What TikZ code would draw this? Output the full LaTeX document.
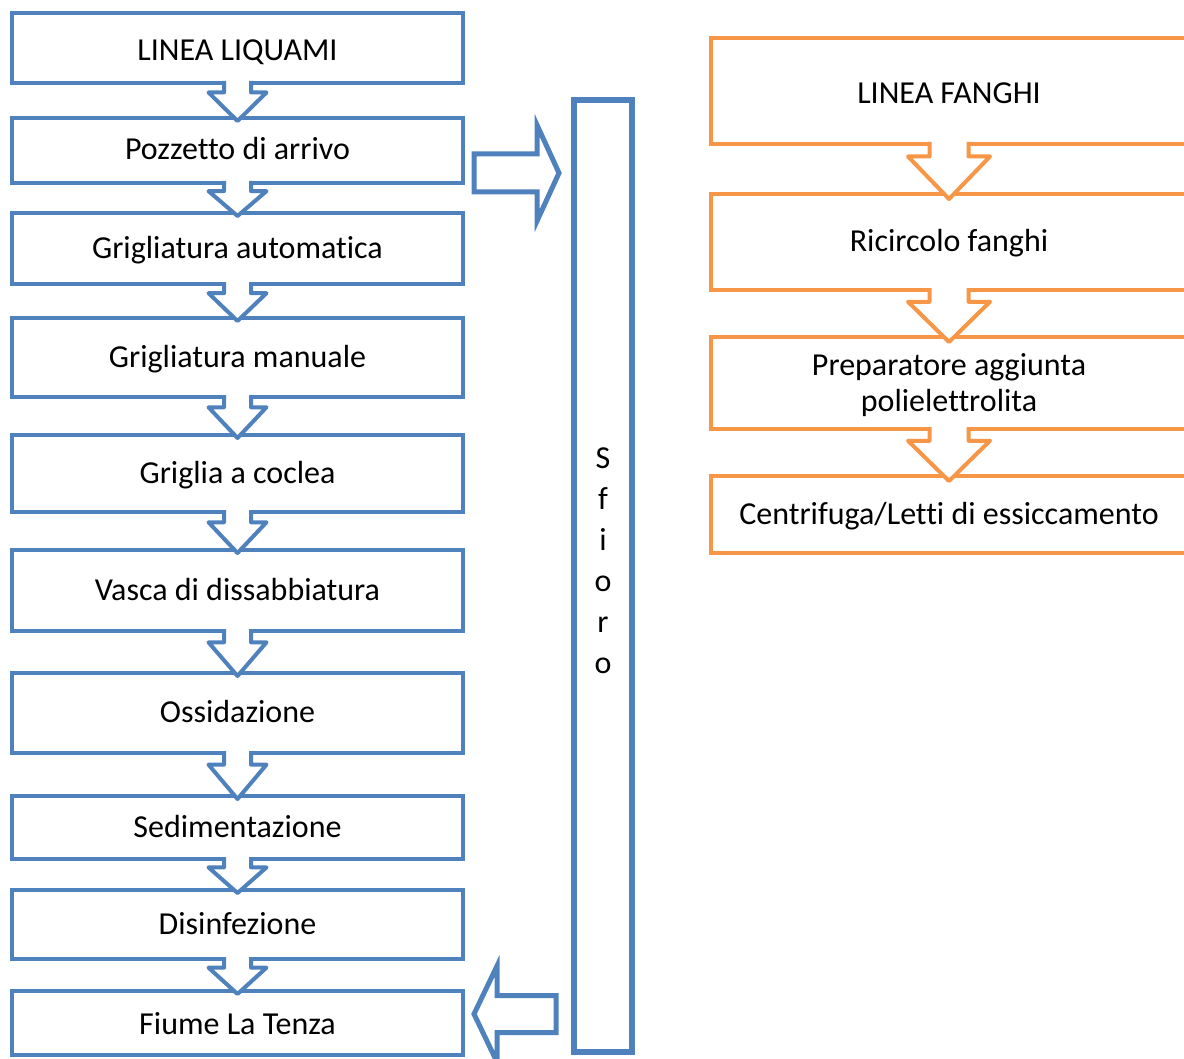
\documentclass[tikz,border=0pt]{standalone}
\usepackage{fontspec}
\setmainfont{Carlito}[Ligatures={NoCommon}]
\usetikzlibrary{calc}
\definecolor{flowblue}{HTML}{4F81BD}
\definecolor{floworange}{HTML}{F79646}

% Block arrow pointing down, from the bottom of one box to the top of the next.
% #1 from, #2 to, #3 colour, #4 shaft half width, #5 head half width,
% #6 fraction where the head starts, #7 overshoot of the tip
\newcommand\flowdown[7]{%
  \coordinate (ft) at (#1.south);
  \coordinate (fh) at ($(#1.south)!#6!(#2.north)$);
  \coordinate (fp) at ($(#2.north)+(0,#7)$);
  \fill[white] ($(ft)+(-#4,-2)$) -- ($(fh)+(-#4,0)$) -- ($(fh)+(-#5,0)$) -- (fp)
    -- ($(fh)+(#5,0)$) -- ($(fh)+(#4,0)$) -- ($(ft)+(#4,-2)$) -- cycle;
  \draw[draw=#3, line width=3pt, line join=round]
    ($(ft)+(-#4,-2)$) -- ($(fh)+(-#4,0)$) -- ($(fh)+(-#5,0)$) -- (fp)
    -- ($(fh)+(#5,0)$) -- ($(fh)+(#4,0)$) -- ($(ft)+(#4,-2)$);
}

\begin{document}
\begin{tikzpicture}[x=0.75pt,y=-0.75pt,
  boxtext/.style={font=\fontsize{24}{27}\selectfont, text height=14.25pt, text depth=0pt,
    inner sep=0pt, outer sep=0pt, align=center, rectangle},
  lbox/.style={boxtext, draw=flowblue, line width=3pt, minimum width=451*0.75pt},
  obox/.style={boxtext, draw=floworange, line width=3pt, minimum width=476*0.75pt},
  sidebox/.style={boxtext, draw=flowblue, line width=4pt, minimum width=58*0.75pt,
    font=\fontsize{24}{30.75}\selectfont, text height=145.5pt},
  harrow/.style={draw=flowblue, fill=white, line width=3.75pt}]
\useasboundingbox (0,0) rectangle (1184,1059);
\clip (0,0) rectangle (1184,1059);

% sewage line
\node[lbox, minimum height=70*0.75pt, text height=18.75pt] (b1) at (237.5,48) {LINEA LIQUAMI};
\node[lbox, minimum height=65*0.75pt] (b2) at (237.5,150.5) {Pozzetto di arrivo};
\node[lbox, minimum height=71*0.75pt] (b3) at (237.5,248.5) {Grigliatura automatica};
\node[lbox, minimum height=79*0.75pt] (b4) at (237.5,357.5) {Grigliatura manuale};
\node[lbox, minimum height=77*0.75pt] (b5) at (237.5,473.5) {Griglia a coclea};
\node[lbox, minimum height=81*0.75pt] (b6) at (237.5,590.5) {Vasca di dissabbiatura};
\node[lbox, minimum height=80*0.75pt] (b7) at (237.5,713) {Ossidazione};
\node[lbox, minimum height=63*0.75pt] (b8) at (237.5,827.5) {Sedimentazione};
\node[lbox, minimum height=69*0.75pt] (b9) at (237.5,924.5) {Disinfezione};
\node[lbox, minimum height=64*0.75pt, text height=17.25pt] (b10) at (237.5,1023) {Fiume La Tenza};

% overflow column
\node[sidebox, minimum height=952*0.75pt] (sf) at (603,576) {S\\f\\i\\o\\r\\o};

% sludge line
\node[obox, minimum height=106*0.75pt, text height=18.75pt] (o1) at (949,91) {LINEA FANGHI};
\node[obox, minimum height=96*0.75pt] (o2) at (949,242) {Ricircolo fanghi};
\node[obox, minimum height=92*0.75pt, text height=42pt] (o3) at (949,383) {Preparatore aggiunta\\polielettrolita};
\node[obox, minimum height=77*0.75pt] (o4) at (949,514.5) {Centrifuga/Letti di essiccamento};

% arrows between the steps
\foreach \a/\b in {b1/b2,b2/b3,b3/b4,b4/b5,b5/b6,b6/b7,b7/b8,b8/b9,b9/b10}
  {\flowdown{\a}{\b}{flowblue}{13.5}{29}{0.27}{3}}
\foreach \a/\b in {o1/o2,o2/o3,o3/o4}
  {\flowdown{\a}{\b}{floworange}{19.5}{41}{0.25}{5}}

% overflow: out of the inlet well, back into the river
\coordinate (ra) at ($(b2.east)+(11,22.5)$);
\coordinate (rb) at ($(sf.west|-ra)+(-15,0)$);
\draw[harrow] ($(ra)+(0,-19)$) -- ($(rb)+(-22,-19)$) -- ($(rb)+(-22,-48)$) -- (rb)
  -- ($(rb)+(-22,48)$) -- ($(rb)+(-22,19)$) -- ($(ra)+(0,19)$) -- cycle;

\coordinate (la) at ($(sf.west|-b10.east)+(-18,-9)$);
\coordinate (lb) at ($(b10.east)+(11,-9)$);
\draw[harrow] ($(la)+(0,-18.5)$) -- ($(lb)+(23,-18.5)$) -- ($(lb)+(23,-48)$) -- (lb)
  -- ($(lb)+(23,48)$) -- ($(lb)+(23,18.5)$) -- ($(la)+(0,18.5)$) -- cycle;
\end{tikzpicture}
\end{document}
